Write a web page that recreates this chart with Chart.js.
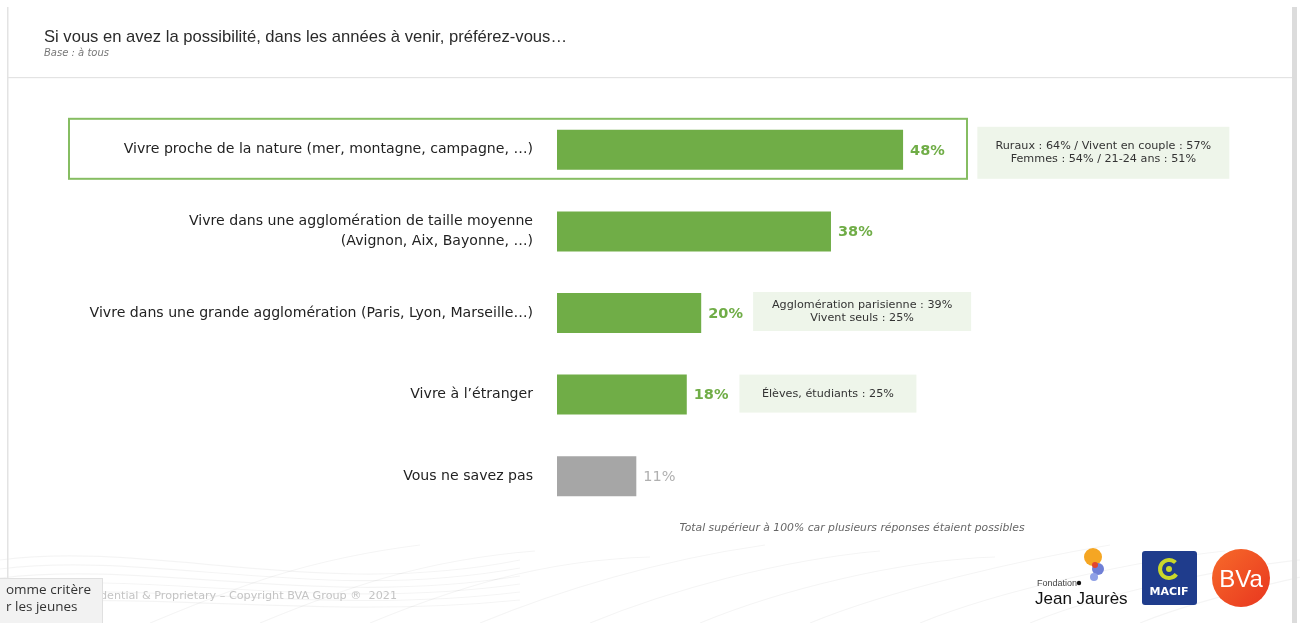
<!DOCTYPE html>
<html>
<head>
<meta charset="utf-8">
<script src="https://cdn.jsdelivr.net/npm/chart.js@4/dist/chart.umd.min.js"></script>
<style>
html,body{margin:0;padding:0;background:#fff;}
#wrap{width:1300px;height:623px;position:relative;}
</style>
</head>
<body>
<div id="wrap"><canvas id="c" width="1300" height="623"></canvas></div>
<script>
// ---- data ----
const categories = [
  ["Vivre proche de la nature (mer, montagne, campagne, …)"],
  ["Vivre dans une agglomération de taille moyenne", "(Avignon, Aix, Bayonne, …)"],
  ["Vivre dans une grande agglomération (Paris, Lyon, Marseille…)"],
  ["Vivre à l’étranger"],
  ["Vous ne savez pas"]
];
const values = [48, 38, 20, 18, 11];
const valueLabels = ["48%", "38%", "20%", "18%", "11%"];
const notes = [
  ["Ruraux : 64% / Vivent en couple : 57%", "Femmes : 54% / 21-24 ans : 51%"],
  [],
  ["Agglomération parisienne : 39%", "Vivent seuls : 25%"],
  ["Élèves, étudiants : 25%"],
  []
];
const titleText = "Si vous en avez la possibilité, dans les années à venir, préférez-vous…";
const baseText = "Base : à tous";
const footnoteText = "Total supérieur à 100% car plusieurs réponses étaient possibles";
const copyrightText = "Confidential & Proprietary – Copyright BVA Group ®  2021";

// ---- styles ----
const GREEN = "#70ad47";
const GREY = "#a6a6a6";
const FONT = "'DejaVu Sans', Verdana, sans-serif";
const TFONT = "'Liberation Sans', Arial, sans-serif";
// note box geometry (x start in value units, width px)
const noteBoxes = [
  {x0: 58.3, w: 252, top: -23, h: 52},
  null,
  {x0: 27.2, w: 218, top: -21, h: 39},
  {x0: 25.3, w: 177, top: -20, h: 38},
  null
];

const decor = {
  id: 'decor',
  beforeDraw(chart) {
    const ctx = chart.ctx;
    ctx.save();
    ctx.fillStyle = "#ffffff";
    ctx.fillRect(0, 0, 1300, 623);
    // faint waves at bottom
    ctx.strokeStyle = "rgba(0,0,0,0.045)";
    ctx.lineWidth = 1.2;
    for (let i = 0; i < 10; i++) {
      ctx.beginPath();
      ctx.moveTo(150 + i * 110, 623);
      ctx.bezierCurveTo(230 + i * 110, 590, 300 + i * 120, 560, 420 + i * 115, 545 + (i % 3) * 6);
      ctx.stroke();
    }
    for (let i = 0; i < 6; i++) {
      ctx.beginPath();
      ctx.moveTo(0, 560 + i * 9);
      ctx.bezierCurveTo(150, 540 + i * 10, 320, 600 + i * 4, 520, 560 + i * 8);
      ctx.stroke();
    }
    // frame lines
    ctx.fillStyle = "#e3e3e3";
    ctx.fillRect(7, 7, 1.5, 572);
    ctx.fillRect(8, 77, 1284, 1.2);
    ctx.fillStyle = "#dcdcdc";
    ctx.fillRect(1292, 7, 5, 616);
    // title
    ctx.fillStyle = "#2b2b2b";
    ctx.font = "16.6px " + TFONT;
    ctx.textBaseline = "alphabetic";
    ctx.textAlign = "left";
    ctx.fillText(titleText, 44, 42);
    ctx.fillStyle = "#777";
    ctx.font = "italic 10px " + FONT;
    ctx.fillText(baseText, 44, 56);

    // highlight box around first category
    const y = chart.scales.y;
    const yc = y.getPixelForValue(0);
    ctx.strokeStyle = "#86bd62";
    ctx.lineWidth = 2;
    ctx.strokeRect(69, yc - 31, 898, 60);
    ctx.restore();
  },
  afterDatasetsDraw(chart) {
    const ctx = chart.ctx;
    const x = chart.scales.x, y = chart.scales.y;
    ctx.save();
    // value labels
    ctx.textBaseline = "middle";
    ctx.textAlign = "left";
    values.forEach((v, i) => {
      const px = x.getPixelForValue(v) + 7;
      const py = y.getPixelForValue(i) + 1;
      const last = i === values.length - 1;
      ctx.font = (last ? "" : "bold ") + "14.5px " + FONT;
      ctx.fillStyle = last ? "#b0b0b0" : GREEN;
      ctx.fillText(valueLabels[i], px, py);
    });
    // note boxes
    notes.forEach((lines, i) => {
      const b = noteBoxes[i];
      if (!b || !lines.length) return;
      const bx = x.getPixelForValue(b.x0);
      const yc = y.getPixelForValue(i);
      ctx.fillStyle = "#eef5ea";
      ctx.fillRect(bx, yc + b.top, b.w, b.h);
      ctx.fillStyle = "#333";
      ctx.font = "11.2px " + FONT;
      ctx.textAlign = "center";
      const cx = bx + b.w / 2;
      const cy = yc + b.top + b.h / 2;
      const lh = 13;
      lines.forEach((t, k) => {
        ctx.fillText(t, cx, cy + (k - (lines.length - 1) / 2) * lh);
      });
    });
    // footnote
    ctx.textAlign = "center";
    ctx.fillStyle = "#666";
    ctx.font = "italic 10.8px " + FONT;
    ctx.fillText(footnoteText, 852, 528);

    // copyright
    ctx.textAlign = "right";
    ctx.fillStyle = "#c4c4c4";
    ctx.font = "11.2px " + FONT;
    ctx.fillText(copyrightText, 397, 596);

    // overlay tooltip box bottom-left
    ctx.textAlign = "left";
    ctx.fillStyle = "#f2f2f2";
    ctx.fillRect(0, 578, 103, 45);
    ctx.strokeStyle = "#e0e0e0";
    ctx.lineWidth = 1;
    ctx.strokeRect(-1, 578.5, 103.5, 46);
    ctx.fillStyle = "#333";
    ctx.font = "13.5px 'Open Sans', sans-serif";
    ctx.fillText("omme critère", 6, 590);
    ctx.fillText("r les jeunes", 6, 607);

    // Fondation Jean Jaurès logo
    ctx.fillStyle = "#f5a623";
    ctx.beginPath(); ctx.arc(1093, 557, 9, 0, Math.PI * 2); ctx.fill();
    ctx.fillStyle = "#6f7fd6";
    ctx.beginPath(); ctx.arc(1098, 569, 6, 0, Math.PI * 2); ctx.fill();
    ctx.fillStyle = "#e2452e";
    ctx.beginPath(); ctx.arc(1095, 565, 3, 0, Math.PI * 2); ctx.fill();
    ctx.fillStyle = "#8fa0e6";
    ctx.beginPath(); ctx.arc(1094, 577, 4, 0, Math.PI * 2); ctx.fill();
    ctx.fillStyle = "#444";
    ctx.font = "9px " + TFONT;
    ctx.textBaseline = "alphabetic";
    ctx.fillText("Fondation", 1037, 586);
    ctx.fillStyle = "#111";
    ctx.beginPath(); ctx.arc(1079, 583, 2.2, 0, Math.PI * 2); ctx.fill();
    ctx.font = "17px " + TFONT;
    ctx.fillText("Jean Jaurès", 1035, 604);

    // MACIF logo
    ctx.fillStyle = "#1f3c8c";
    ctx.beginPath();
    ctx.roundRect(1142, 551, 55, 54, 3);
    ctx.fill();
    ctx.strokeStyle = "#c9d72b";
    ctx.lineWidth = 4;
    ctx.beginPath();
    ctx.arc(1169, 569, 9, Math.PI * 0.2, Math.PI * 1.75);
    ctx.stroke();
    ctx.fillStyle = "#c9d72b";
    ctx.beginPath(); ctx.arc(1169, 569, 3, 0, Math.PI * 2); ctx.fill();
    ctx.fillStyle = "#fff";
    ctx.font = "bold 11px " + FONT;
    ctx.textAlign = "center";
    ctx.fillText("MACIF", 1169, 595);

    // BVA logo
    const g = ctx.createLinearGradient(1212, 550, 1270, 607);
    g.addColorStop(0, "#f76a2a");
    g.addColorStop(1, "#e8361f");
    ctx.fillStyle = g;
    ctx.beginPath(); ctx.arc(1241, 578, 29, 0, Math.PI * 2); ctx.fill();
    ctx.fillStyle = "#fff";
    ctx.font = "24px " + TFONT;
    ctx.fillText("BVa", 1241, 587);
    ctx.restore();
  }
};

new Chart(document.getElementById('c'), {
  type: 'bar',
  data: {
    labels: categories,
    datasets: [{
      data: values,
      backgroundColor: values.map((v, i) => i === values.length - 1 ? GREY : GREEN),
      borderWidth: 0,
      barPercentage: 0.49,
      categoryPercentage: 1.0
    }]
  },
  options: {
    indexAxis: 'y',
    responsive: false,
    animation: false,
    layout: {padding: {top: 109, bottom: 106, right: 22, left: 0}},
    plugins: {legend: {display: false}, tooltip: {enabled: false}},
    scales: {
      x: {min: 0, max: 100, display: false},
      y: {
        grid: {display: false, drawTicks: false},
        border: {display: false},
        afterFit(scale) { scale.width = 557; },
        ticks: {
          padding: 24,
          color: "#222",
          font: {family: FONT, size: 14.1, lineHeight: 1.36}
        }
      }
    }
  },
  plugins: [decor]
});
</script>
</body>
</html>
